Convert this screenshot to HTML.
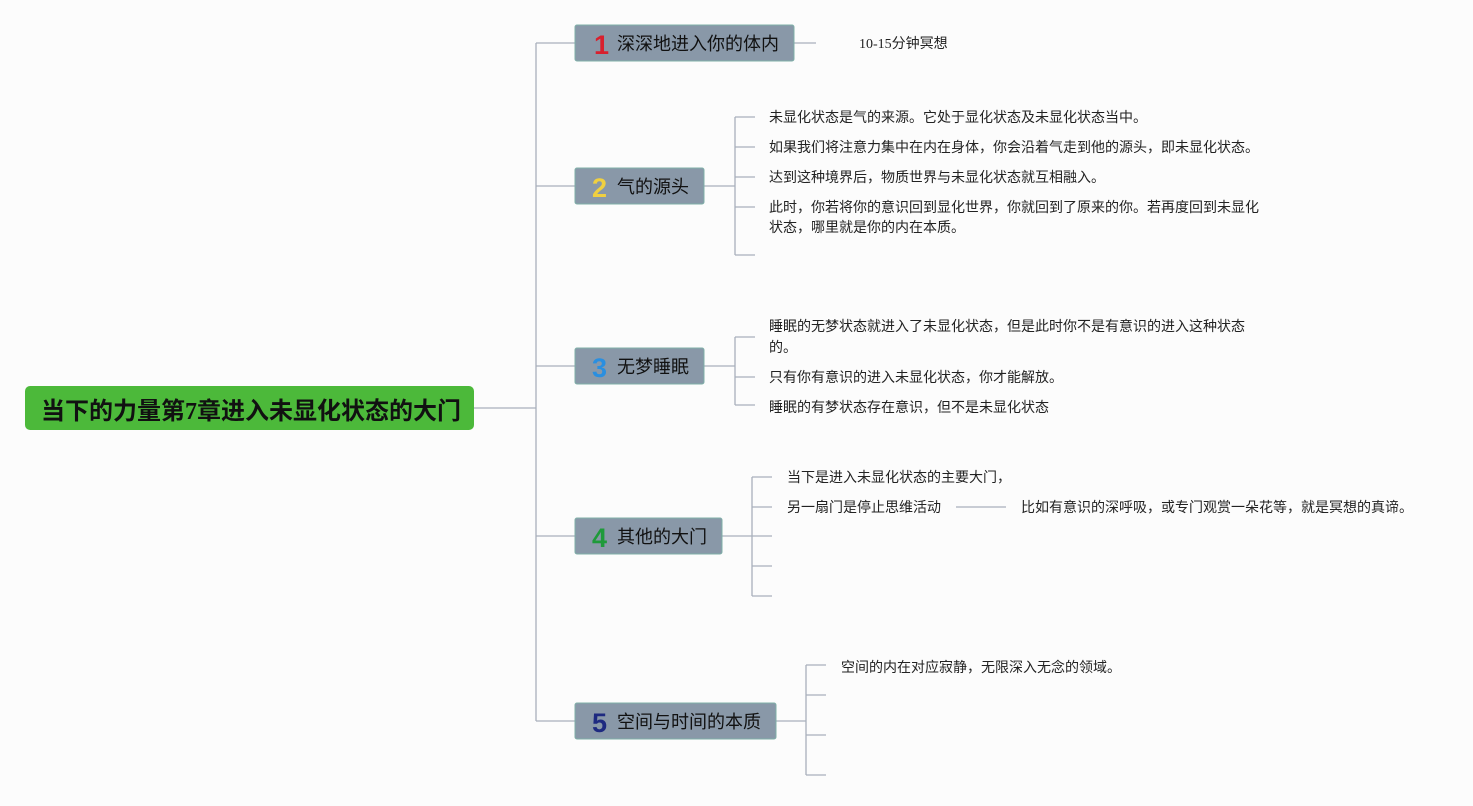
<!DOCTYPE html>
<html><head><meta charset="utf-8"><style>
body{margin:0;background:#fcfcfc;}
svg text{font-family:"Liberation Sans","Noto Sans CJK SC",sans-serif;}
.t{font-size:14px;fill:#222;}
.tp{font-size:18px;fill:#111;}
.n{font-size:27px;font-weight:bold;}
</style></head><body>
<svg width="1473" height="801" xmlns="http://www.w3.org/2000/svg">
<g stroke="#a8b0bc" stroke-width="1.3" fill="none">
<path d="M474 408H536M536 43V721M536 43H575M536 186H575M536 366H575M536 536H575M536 721H575"/>
<path d="M794 43H816"/>
<path d="M704 186H735M735 117V255M735 117H755M735 147H755M735 177H755M735 207H755M735 255H755"/>
<path d="M704 366H735M735 337V405M735 337H755M735 377H755M735 405H755"/>
<path d="M722 536H752M752 477V596M752 477H772M752 507H772M752 536H772M752 566H772M752 596H772M956 507H1006"/>
<path d="M776 721H806M806 665V775M806 665H826M806 695H826M806 735H826M806 775H826"/>
</g>
<rect x="25" y="386" width="449" height="44" rx="5" fill="#4cb93a"/>
<text x="251" y="419" text-anchor="middle" font-size="24" font-weight="bold" fill="#111" style="font-family:'Liberation Serif','Noto Sans CJK SC',sans-serif">当下的力量第7章进入未显化状态的大门</text>
<g fill="#8998a8" stroke="#7fb0a8" stroke-width="1">
<rect x="575" y="25" width="219" height="36" rx="2"/>
<rect x="575" y="168" width="129" height="36" rx="2"/>
<rect x="575" y="348" width="129" height="36" rx="2"/>
<rect x="575" y="518" width="147" height="36" rx="2"/>
<rect x="575" y="703" width="201" height="36" rx="2"/>
</g>
<text class="n" x="594" y="54" fill="#d8202e">1</text><text class="tp" x="617" y="50">深深地进入你的体内</text>
<text class="n" x="592" y="197" fill="#f0d040">2</text><text class="tp" x="617" y="193">气的源头</text>
<text class="n" x="592" y="377" fill="#2a8fe0">3</text><text class="tp" x="617" y="373">无梦睡眠</text>
<text class="n" x="592" y="547" fill="#1e9a3a">4</text><text class="tp" x="617" y="543">其他的大门</text>
<text class="n" x="592" y="732" fill="#1e2a80">5</text><text class="tp" x="617" y="728">空间与时间的本质</text>
<text class="t" x="859" y="48" style="font-family:'Liberation Serif','Noto Sans CJK SC',sans-serif">10-15分钟冥想</text>
<text class="t" x="769" y="122">未显化状态是气的来源。它处于显化状态及未显化状态当中。</text>
<text class="t" x="769" y="152">如果我们将注意力集中在内在身体，你会沿着气走到他的源头，即未显化状态。</text>
<text class="t" x="769" y="182">达到这种境界后，物质世界与未显化状态就互相融入。</text>
<text class="t" x="769" y="212">此时，你若将你的意识回到显化世界，你就回到了原来的你。若再度回到未显化</text>
<text class="t" x="769" y="232">状态，哪里就是你的内在本质。</text>
<text class="t" x="769" y="331">睡眠的无梦状态就进入了未显化状态，但是此时你不是有意识的进入这种状态</text>
<text class="t" x="769" y="352">的。</text>
<text class="t" x="769" y="382">只有你有意识的进入未显化状态，你才能解放。</text>
<text class="t" x="769" y="412">睡眠的有梦状态存在意识，但不是未显化状态</text>
<text class="t" x="787" y="482">当下是进入未显化状态的主要大门，</text>
<text class="t" x="787" y="512">另一扇门是停止思维活动</text>
<text class="t" x="1021" y="512">比如有意识的深呼吸，或专门观赏一朵花等，就是冥想的真谛。</text>
<text class="t" x="841" y="672">空间的内在对应寂静，无限深入无念的领域。</text>
</svg>
</body></html>
